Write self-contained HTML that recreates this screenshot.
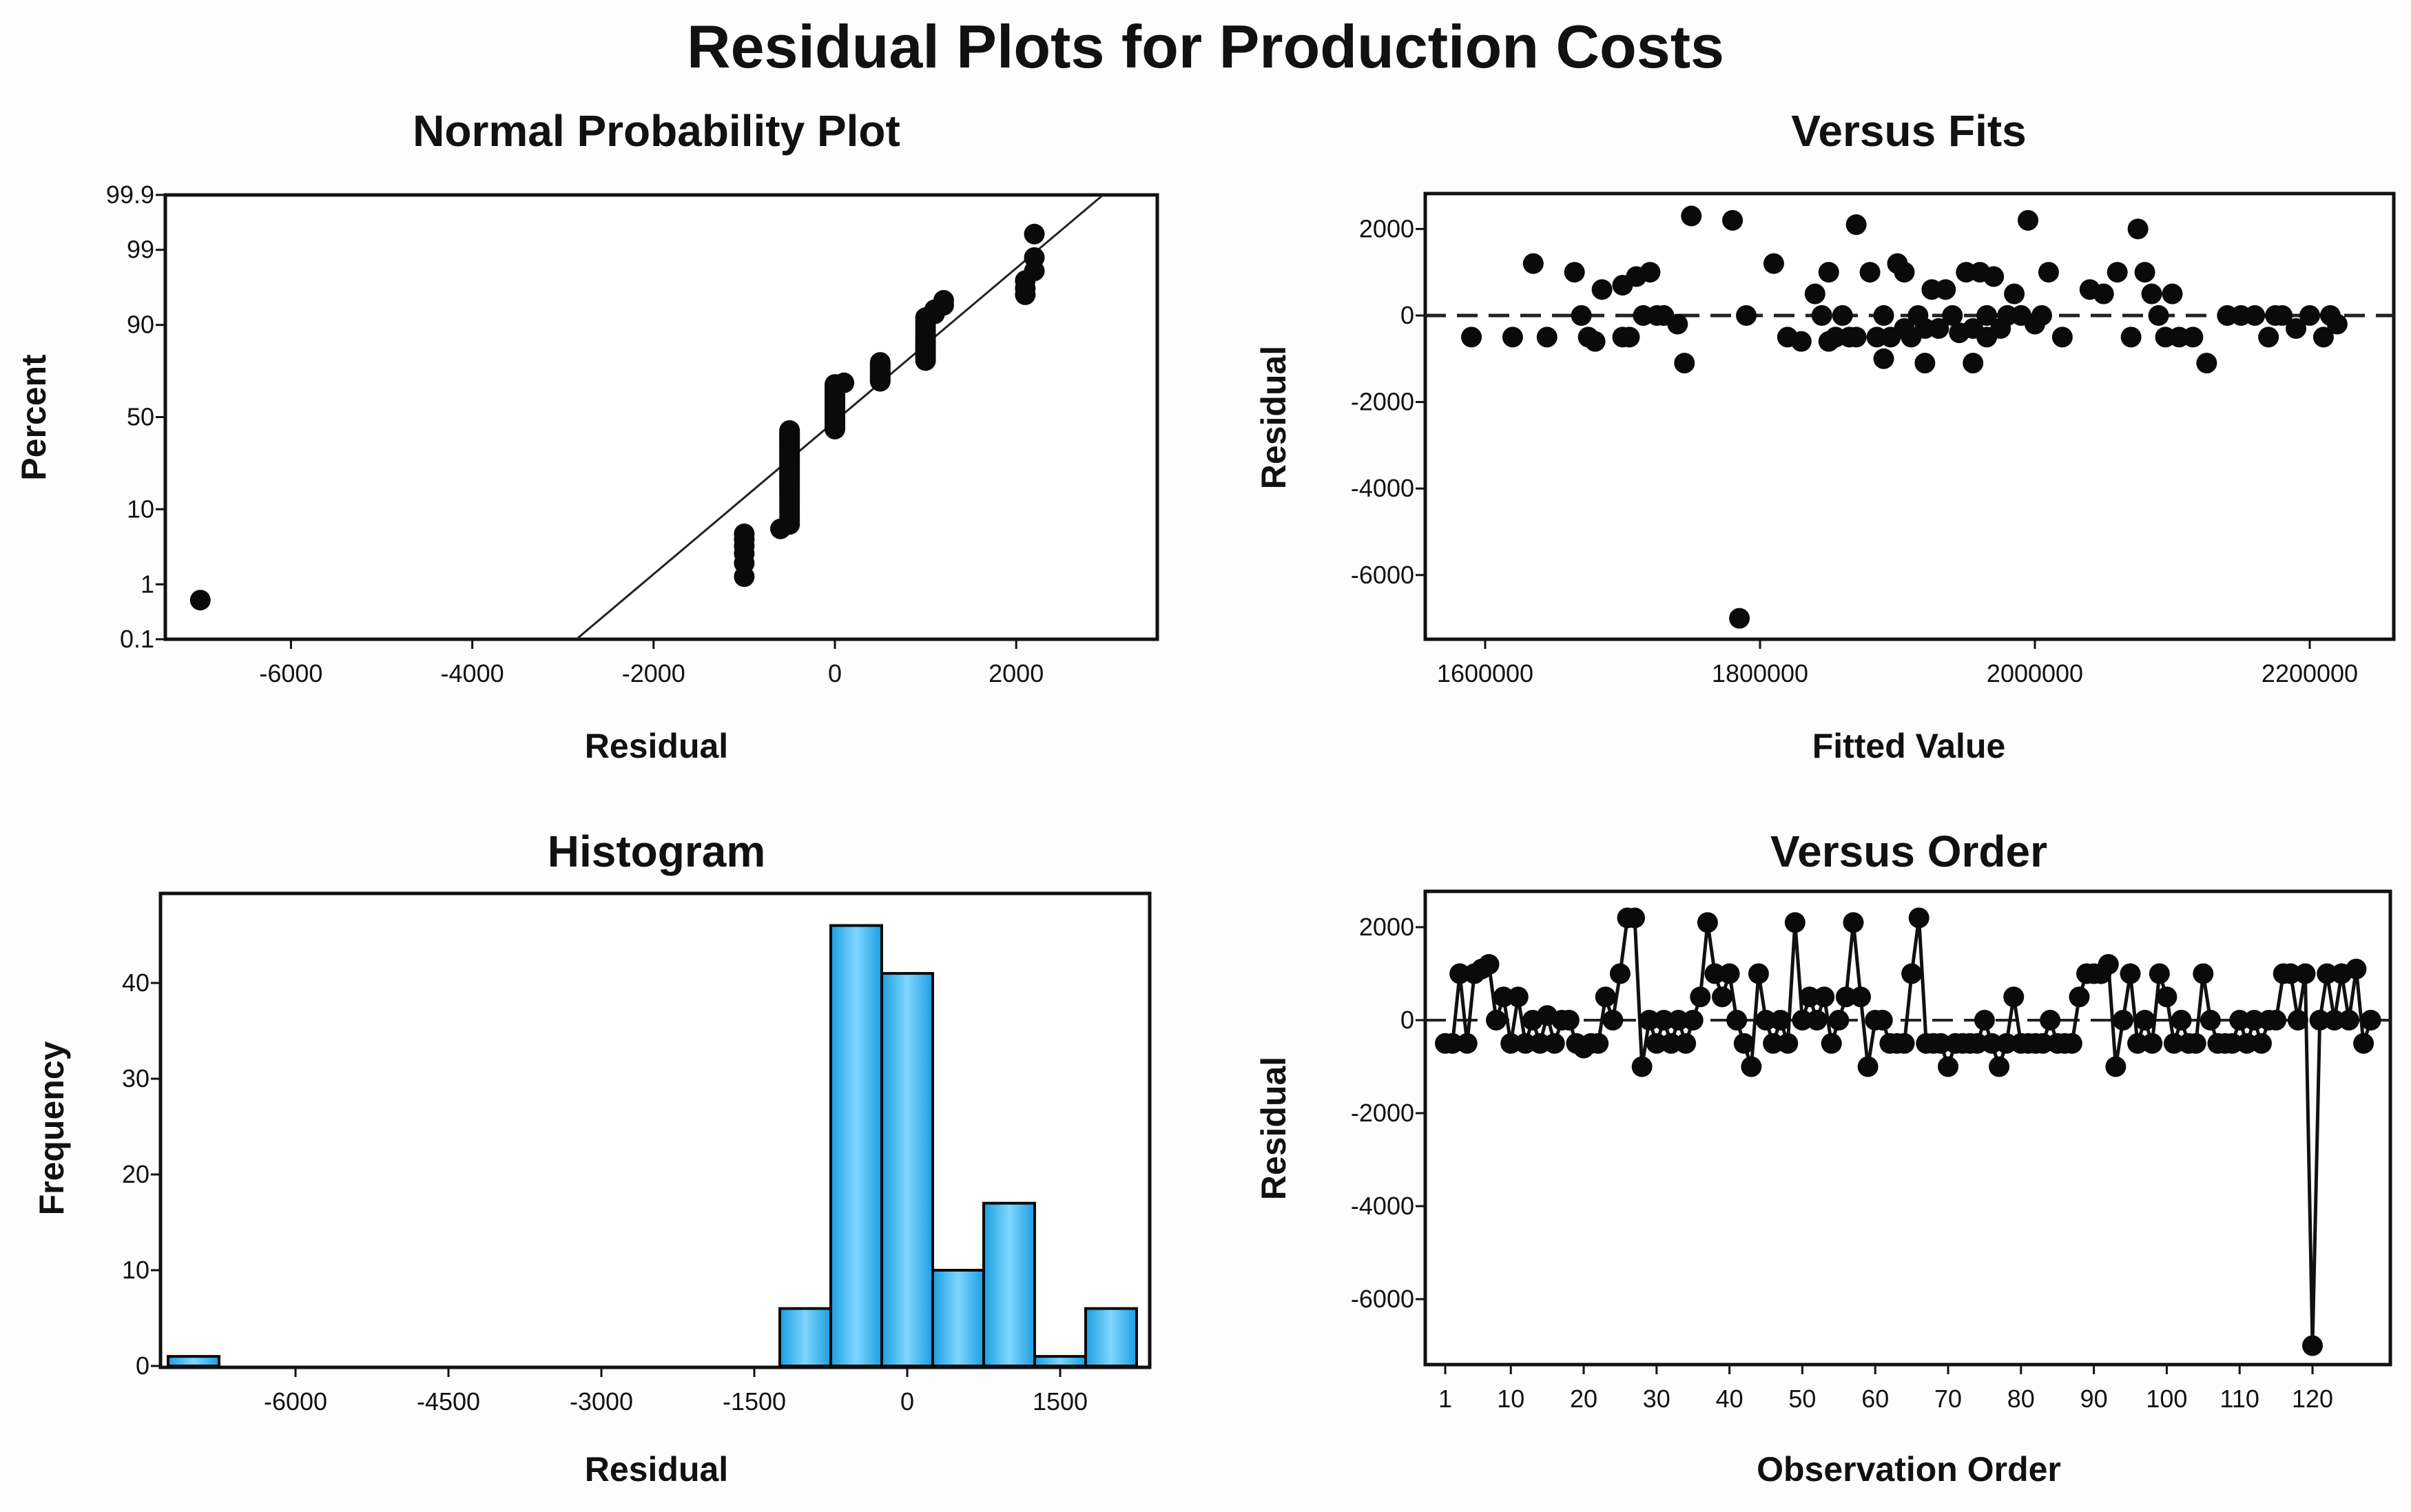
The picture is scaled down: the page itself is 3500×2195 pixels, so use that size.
<!DOCTYPE html>
<html><head><meta charset="utf-8"><style>
html,body{margin:0;padding:0;background:#fff}
svg{display:block}
text{font-family:"Liberation Sans",sans-serif;fill:#111}
.tk{font-size:36px}
.at{font-size:50px;font-weight:bold}
.st{font-size:64px;font-weight:bold}
</style></head><body>
<svg id="chart" width="3500" height="2195" viewBox="0 0 3500 2195" xmlns="http://www.w3.org/2000/svg">
<rect width="3500" height="2195" fill="#fdfdfd"/>
<text x="1750" y="98" text-anchor="middle" font-size="88" font-weight="bold">Residual Plots for Production Costs</text>
<g id="g1"></g><g id="g2"></g><g id="g3"></g><g id="g4"></g>
</svg>
<script>
// ---- data ----
const orderResiduals = [-500,-500,1000,-500,1000,1100,1200,0,500,-500,
500,-500,0,-500,100,-500,0,0,-500,-600,
-500,-500,500,0,1000,2200,2200,-1000,0,-500,
0,-500,0,-500,0,500,2100,1000,500,1000,
0,-500,-1000,1000,0,-500,0,-500,2100,0,
500,0,500,-500,0,500,2100,500,-1000,0,
0,-500,-500,-500,1000,2200,-500,-500,-500,-1000,
-500,-500,-500,-500,0,-500,-1000,-500,500,-500,
-500,-500,-500,0,-500,-500,-500,500,1000,1000,
1000,1200,-1000,0,1000,-500,0,-500,1000,500,
-500,0,-500,-500,1000,0,-500,-500,-500,0,
-500,0,-500,0,0,1000,1000,0,1000,-7000,
0,1000,0,1000,0,1100,-500,0];
const fittedValues = [1590,1620,1635,1645,1665,1670,1675,1680,1685,1700,1700,1705,1710,1715,1720,1725,1730,1740,1745,1750,1780,1790,1785,1810,1820,1830,1840,1845,1850,1850,1855,1860,1865,1870,1870,1880,1885,1890,1890,1895,1900,1905,1905,1910,1915,1920,1920,1925,1930,1935,1940,1945,1950,1955,1955,1960,1965,1965,1970,1975,1980,1985,1990,1995,2000,2005,2010,2020,2040,2050,2060,2070,2075,2080,2085,2090,2095,2100,2105,2115,2125,2140,2150,2160,2170,2175,2180,2190,2200,2210,2215,2220];
const fitResiduals = [-500,-500,1200,-500,1000,0,-500,-600,600,700,-500,-500,900,0,1000,0,0,-200,-1100,2300,2200,0,-7000,1200,-500,-600,500,0,-600,1000,-500,0,-500,2100,-500,1000,-500,0,-1000,-500,1200,1000,-300,-500,0,-1100,-300,600,-300,600,0,-400,1000,-1100,-300,1000,0,-500,900,-300,0,500,0,2200,-200,0,1000,-500,600,500,1000,-500,2000,1000,500,0,-500,500,-500,-500,-1100,0,0,0,-500,0,0,-300,0,-500,0,-200];
const histBins = [-7000,-1000,-500,0,500,1000,1500,2000];
const histFreq = [1,6,46,41,10,17,1,6];
const probTicks = [0.1,1,10,50,90,99,99.9];
const probXTicks = [-6000,-4000,-2000,0,2000];
const resTicks = [2000,0,-2000,-4000,-6000];
const fitXTicks = [1600000,1800000,2000000,2200000];
const histXTicks = [-6000,-4500,-3000,-1500,0,1500];
const histYTicks = [0,10,20,30,40];
const orderXTicks = [1,10,20,30,40,50,60,70,80,90,100,110,120];
const lineMean = 53, lineSd = 940;

const NS='http://www.w3.org/2000/svg';
function mk(parent,tag,attrs,txt){const e=document.createElementNS(NS,tag);for(const k in attrs)e.setAttribute(k,attrs[k]);if(txt!==undefined)e.textContent=txt;parent.appendChild(e);return e;}
function invNorm(p){const a=[-39.6968302866538,220.946098424521,-275.928510446969,138.357751867269,-30.6647980661472,2.50662827745924],b=[-54.4760987982241,161.585836858041,-155.698979859887,66.8013118877197,-13.2806815528857],c=[-0.00778489400243029,-0.322396458041136,-2.40075827716184,-2.54973253934373,4.37466414146497,2.93816398269878],d=[0.00778469570904146,0.32246712907004,2.445134137143,3.75440866190742];let q,r;if(p<0.02425){q=Math.sqrt(-2*Math.log(p));return(((((c[0]*q+c[1])*q+c[2])*q+c[3])*q+c[4])*q+c[5])/((((d[0]*q+d[1])*q+d[2])*q+d[3])*q+1);}if(p>1-0.02425){q=Math.sqrt(-2*Math.log(1-p));return-(((((c[0]*q+c[1])*q+c[2])*q+c[3])*q+c[4])*q+c[5])/((((d[0]*q+d[1])*q+d[2])*q+d[3])*q+1);}q=p-0.5;r=q*q;return(((((a[0]*r+a[1])*r+a[2])*r+a[3])*r+a[4])*r+a[5])*q/(((((b[0]*r+b[1])*r+b[2])*r+b[3])*r+b[4])*r+1);}
function frame(g,x0,y0,x1,y1){const r=mk(g,'rect',{x:x0,y:y0,width:x1-x0,height:y1-y0,fill:'#fff',stroke:'#111','stroke-width':5});}
function xtick(g,x,y,lab){mk(g,'line',{x1:x,x2:x,y1:y,y2:y+14,stroke:'#111','stroke-width':3});const t=mk(g,'text',{x:x,y:y+62,'text-anchor':'middle',class:'tk'},lab);}
function ytick(g,x,y,lab){mk(g,'line',{x1:x-14,x2:x,y1:y,y2:y,stroke:'#111','stroke-width':3});const t=mk(g,'text',{x:x-16,y:y+12,'text-anchor':'end',class:'tk'},lab);}
function titles(g,cx,ty,title,xl,xly,yl,ylx,yly){let t=mk(g,'text',{x:cx,y:ty,'text-anchor':'middle',class:'st'},title);
t=mk(g,'text',{x:cx,y:xly,'text-anchor':'middle',class:'at'},xl);
t=mk(g,'text',{x:ylx,y:yly,'text-anchor':'middle',class:'at',transform:`rotate(-90 ${ylx} ${yly})`},yl);}
function dot(g,x,y){const c=mk(g,'circle',{cx:x,cy:y,r:15,fill:'#0a0a0a'});}

// Panel 1: normal probability plot
(function(){const g=document.getElementById('g1');
const X0=240,X1=1680,Y0=283,Y1=928;const sx=v=>1212+v*0.1316;const zr=3.09;const sy=p=>(Y0+Y1)/2-invNorm(p/100)/zr*(Y1-Y0)/2;
frame(g,X0,Y0,X1,Y1);
probXTicks.forEach(v=>xtick(g,sx(v),Y1,String(v)));
probTicks.forEach(v=>ytick(g,X0,sy(v),String(v)));
const cp=mk(g,'clipPath',{id:'c1'});mk(cp,'rect',{x:X0,y:Y0,width:X1-X0,height:Y1-Y0});
const zlo=-zr,zhi=zr;const l=mk(g,'line',{x1:sx(lineMean+zlo*lineSd),y1:Y1,x2:sx(lineMean+zhi*lineSd),y2:Y0,stroke:'#222','stroke-width':3,'clip-path':'url(#c1)'});
const s=orderResiduals.slice().sort((a,b)=>a-b);const n=s.length;
s.forEach((v,i)=>{const p=(i+1-0.3)/(n+0.4)*100;dot(g,sx(v),sy(p));});
titles(g,953,212,'Normal Probability Plot','Residual',1100,'Percent',66,606);})();

// Panel 2: versus fits
(function(){const g=document.getElementById('g2');
const X0=2069,X1=3475,Y0=281,Y1=928;const sx=v=>2156+(v-1600000)*399/200000;const sy=v=>458-v*0.0628;
frame(g,X0,Y0,X1,Y1);
fitXTicks.forEach(v=>xtick(g,sx(v),Y1,String(v)));
resTicks.forEach(v=>ytick(g,X0,sy(v),String(v)));
const z=mk(g,'line',{x1:X0,x2:X1,y1:sy(0),y2:sy(0),stroke:'#222','stroke-width':5,'stroke-dasharray':'30 16'});
fittedValues.forEach((f,i)=>dot(g,sx(f*1000),sy(fitResiduals[i])));
titles(g,2771,212,'Versus Fits','Fitted Value',1100,'Residual',1866,606);})();

// Panel 3: histogram
(function(){const g=document.getElementById('g3');
const X0=233,X1=1669,Y0=1297,Y1=1985;const sx=v=>1317+v*0.148;const sy=v=>1983-v*13.9;
frame(g,X0,Y0,X1,Y1);
const df=mk(g,'defs',{});const lg=mk(df,'linearGradient',{id:'bg',x1:0,x2:1,y1:0,y2:0});
mk(lg,'stop',{offset:'0','stop-color':'#1a9ee0'});mk(lg,'stop',{offset:'0.5','stop-color':'#7fd6ff'});mk(lg,'stop',{offset:'1','stop-color':'#1a9ee0'});
histBins.forEach((c,i)=>{const x=sx(c-250),w=sx(c+250)-x;const r=mk(g,'rect',{x:x,y:sy(histFreq[i]),width:w,height:sy(0)-sy(histFreq[i]),fill:'url(#bg)',stroke:'#0a0a0a','stroke-width':4});});
histXTicks.forEach(v=>xtick(g,sx(v),Y1,String(v)));
histYTicks.forEach(v=>ytick(g,X0,sy(v),String(v)));
titles(g,953,1258,'Histogram','Residual',2150,'Frequency',92,1638);})();

// Panel 4: versus order
(function(){const g=document.getElementById('g4');
const X0=2069,X1=3470,Y0=1294,Y1=1981;const sx=v=>2098+(v-1)*10.58;const sy=v=>1481-v*0.0675;
frame(g,X0,Y0,X1,Y1);
orderXTicks.forEach(v=>xtick(g,sx(v),Y1,String(v)));
resTicks.forEach(v=>ytick(g,X0,sy(v),String(v)));
const z=mk(g,'line',{x1:X0,x2:X1,y1:sy(0),y2:sy(0),stroke:'#222','stroke-width':4,'stroke-dasharray':'30 16'});
const pts=orderResiduals.map((v,i)=>sx(i+1)+','+sy(v)).join(' ');
const pl=mk(g,'polyline',{points:pts,fill:'none',stroke:'#111','stroke-width':5});
orderResiduals.forEach((v,i)=>dot(g,sx(i+1),sy(v)));
titles(g,2771,1258,'Versus Order','Observation Order',2150,'Residual',1866,1638);})();
</script>
</body></html>
